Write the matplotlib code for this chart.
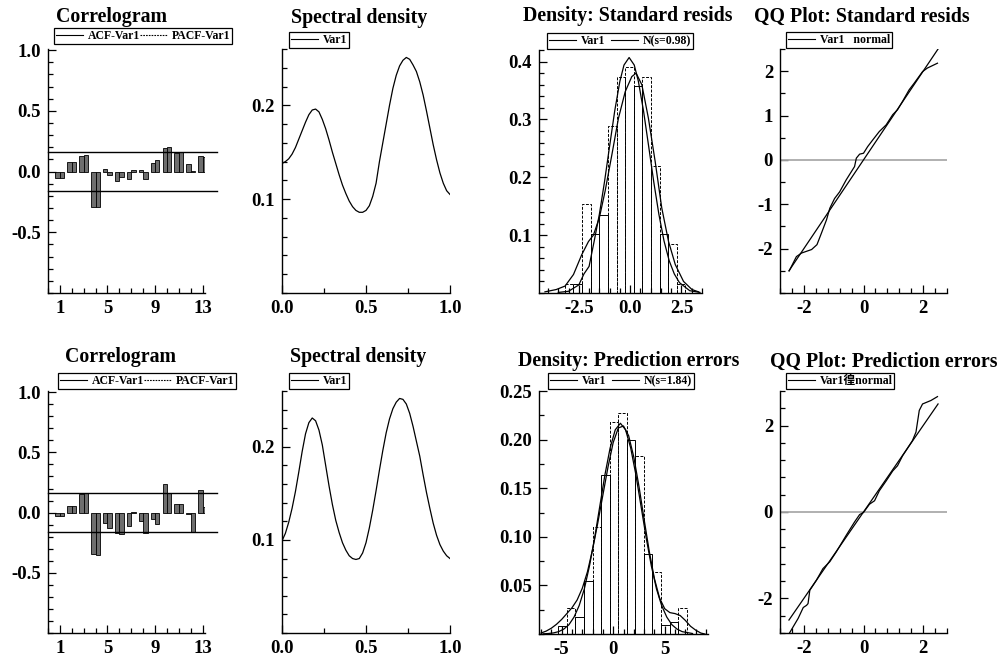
import numpy as np
import matplotlib
matplotlib.use("Agg")
import matplotlib.pyplot as plt
from matplotlib.lines import Line2D
from matplotlib.ticker import MultipleLocator

# ---------------------------------- data ----------------------------------
lags = list(range(1, 14))
acf_resid = [-0.055, 0.08, 0.13, -0.29, 0.02, -0.08, -0.06, 0.015, 0.075, 0.195, 0.15, 0.065, 0.13]
pacf_resid = [-0.055, 0.08, 0.14, -0.29, -0.03, -0.045, 0.015, -0.065, 0.095, 0.20, 0.16, 0.005, 0.12]
acf_err = [-0.025, 0.055, 0.155, -0.34, -0.09, -0.17, -0.11, -0.07, -0.055, 0.24, 0.07, -0.015, 0.19]
pacf_err = [-0.03, 0.055, 0.16, -0.355, -0.13, -0.18, 0.005, -0.17, -0.095, 0.165, 0.07, -0.165, 0.045]
band = 0.163

freq = [0.00, 0.02, 0.04, 0.06, 0.08, 0.10, 0.12, 0.14, 0.16, 0.18, 0.20, 0.22, 0.24, 0.26, 0.28, 0.30, 0.32,
        0.34, 0.36, 0.38, 0.40, 0.42, 0.44, 0.46, 0.48, 0.50, 0.52, 0.54, 0.56, 0.58, 0.60, 0.62, 0.64, 0.66,
        0.68, 0.70, 0.72, 0.74, 0.76, 0.78, 0.80, 0.82, 0.84, 0.86, 0.88, 0.90, 0.92, 0.94, 0.96, 0.98, 1.00]
spec_resid = [0.138, 0.140, 0.143, 0.148, 0.155, 0.164, 0.173, 0.182, 0.190, 0.195, 0.196, 0.193, 0.185, 0.175,
              0.163, 0.150, 0.138, 0.126, 0.115, 0.106, 0.098, 0.092, 0.088, 0.086, 0.086, 0.088, 0.093, 0.103,
              0.117, 0.140, 0.160, 0.180, 0.200, 0.218, 0.232, 0.242, 0.248, 0.251, 0.249, 0.243, 0.236, 0.225,
              0.211, 0.194, 0.176, 0.158, 0.142, 0.128, 0.117, 0.109, 0.105]
spec_err = [0.099, 0.107, 0.119, 0.134, 0.152, 0.173, 0.195, 0.214, 0.226, 0.231, 0.228, 0.218, 0.202, 0.180,
            0.158, 0.138, 0.121, 0.108, 0.097, 0.089, 0.083, 0.080, 0.079, 0.080, 0.086, 0.097, 0.113, 0.132,
            0.153, 0.175, 0.196, 0.215, 0.230, 0.241, 0.248, 0.252, 0.251, 0.246, 0.236, 0.222, 0.206, 0.190,
            0.170, 0.151, 0.134, 0.118, 0.105, 0.095, 0.088, 0.083, 0.080]

# histogram of standardised residuals
bins_resid = [-3.17, -2.76, -2.36, -1.92, -1.50, -1.06, -0.65, -0.24, 0.18, 0.60, 1.01, 1.43, 1.84, 2.26, 2.68]
hist_resid = [0.016, 0.016, 0.153, 0.102, 0.135, 0.288, 0.374, 0.391, 0.358, 0.374, 0.220, 0.102, 0.084, 0.016]
hist_resid_ls = ['--', '-', '--', '-', '-', '--', '--', '--', '-', '--', '--', '-', '--', '--']
kde_resid_x = [-4.15, -3.6, -3.17, -2.76, -2.36, -2.03, -1.79, -1.50, -1.22, -0.89, -0.57, -0.24, 0.08, 0.29,
               0.57, 0.89, 1.22, 1.54, 1.87, 2.20, 2.60, 3.01, 3.33]
kde_resid_y = [0.002, 0.006, 0.012, 0.032, 0.066, 0.089, 0.100, 0.130, 0.176, 0.239, 0.302, 0.348, 0.374, 0.380,
               0.360, 0.302, 0.227, 0.147, 0.089, 0.049, 0.020, 0.006, 0.002]
norm_resid_x = [-3.5, -3.0, -2.5, -2.25, -2.0, -1.75, -1.5, -1.25, -1.0, -0.75, -0.5, -0.3, -0.05, 0.2, 0.4,
                0.65, 0.9, 1.15, 1.4, 1.65, 1.9, 2.15, 2.4, 2.9, 3.4]
norm_resid_y = [0.001, 0.003, 0.014, 0.033, 0.046, 0.090, 0.136, 0.192, 0.254, 0.315, 0.366, 0.394, 0.407, 0.394,
                0.366, 0.315, 0.254, 0.192, 0.136, 0.090, 0.056, 0.033, 0.018, 0.004, 0.001]

# histogram of prediction errors
bins_err = [-5.32, -4.49, -3.66, -2.83, -2.0, -1.17, -0.34, 0.49, 1.32, 2.15, 2.98, 3.81, 4.64, 5.47, 6.30, 7.13]
hist_err = [0.008, 0.027, 0.018, 0.055, 0.110, 0.164, 0.218, 0.227, 0.200, 0.183, 0.082, 0.064, 0.009, 0.012, 0.027]
hist_err_ls = ['-', '--', '-', '-', '--', '-', '--', '--', '-', '--', '-', '--', '-', '-', '--']
kde_err_x = [-7.0, -6.5, -6.0, -5.5, -5.0, -4.5, -4.0, -3.5, -3.0, -2.5, -2.0, -1.5, -1.0, -0.5, 0.0, 0.5, 1.0,
             1.5, 2.0, 2.5, 3.0, 3.5, 4.0, 4.5, 5.0, 5.5, 6.0, 6.5, 7.0, 7.5, 8.0, 8.5, 8.9]
kde_err_y = [0.001, 0.003, 0.006, 0.010, 0.015, 0.021, 0.027, 0.035, 0.047, 0.064, 0.087, 0.114, 0.143, 0.172,
             0.197, 0.212, 0.214, 0.204, 0.182, 0.152, 0.118, 0.085, 0.057, 0.037, 0.026, 0.022, 0.021, 0.019,
             0.014, 0.008, 0.004, 0.001, 0.000]
norm_err_x = [-6.8, -6.3, -5.8, -5.3, -4.8, -4.3, -3.8, -3.3, -2.8, -2.3, -1.8, -1.3, -0.8, -0.3, 0.2, 0.7,
              1.2, 1.7, 2.2, 2.7, 3.2, 3.7, 4.2, 4.7, 5.2, 5.7, 6.2, 6.7, 7.7]
norm_err_y = [0.0002, 0.0005, 0.0011, 0.0024, 0.0050, 0.0095, 0.0174, 0.0293, 0.0464, 0.0701, 0.0990, 0.1315,
              0.1639, 0.1913, 0.2101, 0.2168, 0.2101, 0.1913, 0.1639, 0.1315, 0.0990, 0.0701, 0.0464, 0.0293,
              0.0174, 0.0095, 0.0050, 0.0024, 0.0005]

# QQ plots
qq_ref = [-2.5, 2.5]
qq_resid_x = [-2.49, -2.25, -2.08, -1.91, -1.74, -1.56, -1.41, -1.24, -1.13, -0.97, -0.80, -0.58, -0.30, -0.24,
              -0.13, 0.0, 0.14, 0.31, 0.53, 0.76, 0.98, 1.14, 1.31, 1.53, 1.70, 1.98, 2.14, 2.48]
qq_resid_y = [-2.50, -2.18, -2.10, -2.06, -2.02, -1.91, -1.65, -1.35, -1.09, -0.87, -0.72, -0.45, -0.15, 0.04,
              0.13, 0.15, 0.30, 0.45, 0.64, 0.79, 1.02, 1.13, 1.32, 1.58, 1.73, 1.99, 2.07, 2.18]
qq_err_x = [-2.49, -2.19, -2.02, -1.91, -1.86, -1.80, -1.58, -1.36, -1.13, -0.91, -0.58, -0.30, -0.13, 0.0,
            0.20, 0.37, 0.53, 0.76, 0.98, 1.14, 1.31, 1.48, 1.64, 1.76, 1.87, 1.98, 2.26, 2.48]
qq_err_y = [-2.81, -2.46, -2.21, -2.16, -2.12, -1.81, -1.58, -1.31, -1.15, -0.92, -0.54, -0.23, -0.06, -0.01,
            0.18, 0.26, 0.49, 0.72, 0.95, 1.07, 1.30, 1.48, 1.65, 1.85, 2.35, 2.50, 2.58, 2.67]

titles_top = ["Correlogram", "Spectral density", "Density: Standard resids", "QQ Plot: Standard resids"]
titles_bot = ["Correlogram", "Spectral density", "Density: Prediction errors", "QQ Plot: Prediction errors"]
# -------------------------------------------------------------------------------------------------

plt.rcParams['font.family'] = ['Liberation Serif', 'Noto Sans CJK SC']
plt.rcParams['font.weight'] = 'bold'
plt.rcParams['axes.unicode_minus'] = False

W, H = 1003, 660
fig = plt.figure(figsize=(W / 100, H / 100), dpi=100)


def px_axes(l, t, r, b):
    # axes box given in image pixels
    ax = fig.add_axes([l / W, 1 - b / H, (r - l) / W, (b - t) / H])
    ax.spines[['top', 'right']].set_visible(False)
    ax.spines[['left', 'bottom']].set_linewidth(1.0)
    ax.patch.set_alpha(0)
    ax.tick_params(which='both', direction='in', top=False, right=False, labelsize=13.5, width=0.9, pad=5)
    ax.tick_params(which='major', length=6)
    ax.tick_params(which='minor', length=3.5)
    return ax


def px_legend(ax, handles, labels, x, y, cs=0.5):
    leg = ax.legend(handles, labels, loc='lower left', bbox_to_anchor=(x / W, 1 - y / H),
                    bbox_transform=fig.transFigure, ncol=len(labels), fontsize=8.5, frameon=True,
                    fancybox=False, edgecolor='black', framealpha=1, borderpad=0.15, borderaxespad=0,
                    handlelength=2.3, handletextpad=0.4, columnspacing=cs)
    leg.get_frame().set_linewidth(0.9)
    return leg


def correlogram(ax, acf, pacf, legx, legy):
    x = np.array(lags)
    ax.bar(x, acf, width=-0.37, align='edge', color='#6e6e6e', edgecolor='black', linewidth=0.6)
    ax.bar(x, pacf, width=0.37, align='edge', color='#6e6e6e', edgecolor='black', linewidth=0.6)
    for b in (band, -band):
        ax.plot([0, 14.2], [b, b], color='black', lw=1.0, clip_on=False)
    ax.set_xlim(0, 13.2)
    ax.set_ylim(-1.0, 1.01)
    ax.set_xticks([1, 5, 9, 13])
    ax.xaxis.set_minor_locator(MultipleLocator(1))
    ax.set_yticks([-0.5, 0.0, 0.5, 1.0], ['-0.5', '0.0', '0.5', '1.0'])
    ax.yaxis.set_minor_locator(MultipleLocator(0.1))
    h = [Line2D([], [], color='black', lw=0.8), Line2D([], [], color='black', lw=0.8, ls=(0, (1.5, 1)))]
    px_legend(ax, h, ['ACF-Var1', 'PACF-Var1'], legx, legy, cs=0.0)


def spectral(ax, s, legx, legy):
    ax.plot(freq, s, color='black', lw=0.9)
    ax.set_xlim(0, 1.0)
    ax.set_ylim(0, 0.26)
    ax.set_xticks([0.0, 0.5, 1.0], ['0.0', '0.5', '1.0'])
    ax.xaxis.set_minor_locator(MultipleLocator(0.25))
    ax.set_yticks([0.1, 0.2], ['0.1', '0.2'])
    ax.yaxis.set_minor_locator(MultipleLocator(0.02))
    px_legend(ax, [Line2D([], [], color='black', lw=0.8)], ['Var1'], legx, legy)


def density(ax, edges, heights, styles, kx, ky, nx, ny, label, legx, legy):
    edges = np.array(edges)
    bars = ax.bar(edges[:-1], heights, width=np.diff(edges), align='edge', facecolor='none',
                  edgecolor='black', linewidth=0.7)
    for bar, ls in zip(bars, styles):
        bar.set_linestyle(ls if ls == '-' else (0, (3, 1.5)))
    ax.plot(kx, ky, color='black', lw=0.9)
    ax.plot(nx, ny, color='black', lw=0.9)
    h = [Line2D([], [], color='black', lw=0.8), Line2D([], [], color='black', lw=0.8)]
    px_legend(ax, h, ['Var1', label], legx, legy)


def qqplot(ax, qx, qy, label, legx, legy):
    ax.axhline(0, color='#aaaaaa', lw=1.3)
    ax.plot(qq_ref, qq_ref, color='black', lw=0.9)
    ax.plot(qx, qy, color='black', lw=0.9)
    ax.set_xlim(-2.8, 2.8)
    ax.set_xticks([-2, 0, 2], ['-2', '0', '2'])
    ax.xaxis.set_minor_locator(MultipleLocator(0.4))
    px_legend(ax, [Line2D([], [], color='black', lw=0.8)], [label], legx, legy)


# ---------------- top row ----------------
ax = px_axes(48, 49, 205, 293)
correlogram(ax, acf_resid, pacf_resid, 54, 44)

ax = px_axes(282, 49, 450, 293)
spectral(ax, spec_resid, 289, 48)

ax = px_axes(539, 50, 702, 293)
density(ax, bins_resid, hist_resid, hist_resid_ls, kde_resid_x, kde_resid_y, norm_resid_x, norm_resid_y,
        'N(s=0.98)', 547, 49)
ax.set_xlim(-4.44, 3.5)
ax.set_ylim(0, 0.42)
ax.set_xticks([-2.5, 0.0, 2.5], ['-2.5', '0.0', '2.5'])
ax.xaxis.set_minor_locator(MultipleLocator(0.5))
ax.set_yticks([0.1, 0.2, 0.3, 0.4], ['0.1', '0.2', '0.3', '0.4'])
ax.yaxis.set_minor_locator(MultipleLocator(0.02))

ax = px_axes(780, 49, 947, 293)
qqplot(ax, qq_resid_x, qq_resid_y, 'Var1   normal', 786, 48)
ax.set_ylim(-3.0, 2.5)
ax.set_yticks([-2, -1, 0, 1, 2], ['-2', '-1', '0', '1', '2'])
ax.yaxis.set_minor_locator(MultipleLocator(0.5))

# ---------------- bottom row ----------------
ax = px_axes(48, 391, 205, 633)
correlogram(ax, acf_err, pacf_err, 58, 389)

ax = px_axes(282, 391, 450, 633)
spectral(ax, spec_err, 289, 389)

ax = px_axes(539, 391, 708, 634)
density(ax, bins_err, hist_err, hist_err_ls, kde_err_x, kde_err_y, norm_err_x, norm_err_y,
        'N(s=1.84)', 548, 389)
ax.set_xlim(-7.2, 9.2)
ax.set_ylim(0, 0.25)
ax.set_xticks([-5, 0, 5], ['-5', '0', '5'])
ax.xaxis.set_minor_locator(MultipleLocator(1))
ax.set_yticks([0.05, 0.10, 0.15, 0.20, 0.25], ['0.05', '0.10', '0.15', '0.20', '0.25'])
ax.yaxis.set_minor_locator(MultipleLocator(0.025))

ax = px_axes(780, 391, 947, 633)
qqplot(ax, qq_err_x, qq_err_y, 'Var1徨normal', 786, 389)
ax.set_ylim(-2.8, 2.8)
ax.set_yticks([-2, 0, 2], ['-2', '0', '2'])
ax.yaxis.set_minor_locator(MultipleLocator(0.4))

# titles, placed in pixels
for t, x, y in zip(titles_top, [112, 359, 628, 862], [17, 18, 16, 17]):
    fig.text(x / W, 1 - y / H, t, ha='center', va='center', fontsize=14.3, fontweight='bold')
for t, x, y in zip(titles_bot, [121, 358, 629, 884], [357, 357, 361, 362]):
    fig.text(x / W, 1 - y / H, t, ha='center', va='center', fontsize=14.3, fontweight='bold')

fig.savefig('out.png', dpi=100)
